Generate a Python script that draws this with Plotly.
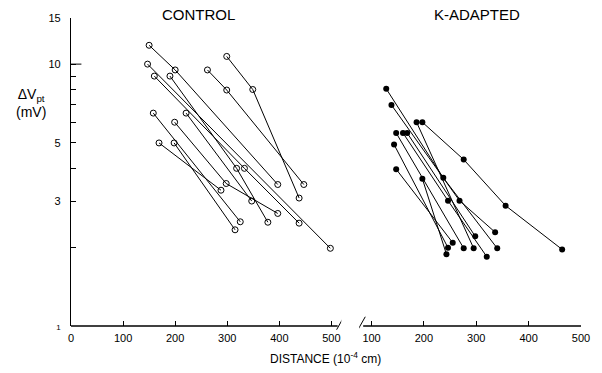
import math
import plotly.graph_objects as go

# ---------------- data (distance in 1e-4 cm, dV in mV) ----------------
ctrl_x = [
    [150, 200, 397],
    [262, 299, 447],
    [299, 349, 438],
    [190, 318, 378],
    [147, 498],
    [160, 333, 438],
    [221, 347],
    [199, 298, 397],
    [158, 325],
    [198, 315],
    [169, 288],
]
ctrl_y = [
    [11.8, 9.5, 3.47],
    [9.5, 7.96, 3.47],
    [10.7, 8.0, 3.08],
    [9.0, 4.0, 2.49],
    [10.0, 1.98],
    [9.0, 4.0, 2.47],
    [6.5, 3.0],
    [6.0, 3.5, 2.69],
    [6.5, 2.5],
    [5.0, 2.33],
    [5.0, 3.3],
]

kadapt_x = [
    [197, 276, 356, 464],
    [128, 237, 340],
    [138, 268, 336],
    [186, 295],
    [147, 276],
    [160, 246, 320],
    [168, 298],
    [143, 246],
    [147, 255],
    [197, 243],
]
kadapt_y = [
    [6.0, 4.32, 2.88, 1.96],
    [8.05, 3.68, 1.98],
    [6.98, 3.01, 2.28],
    [6.0, 1.98],
    [5.46, 1.98],
    [5.46, 3.01, 1.84],
    [5.46, 2.20],
    [4.93, 1.99],
    [3.97, 2.08],
    [3.65, 1.88],
]

y_tickvals = [1, 3, 5, 10, 15]
y_ticktext = ["<span style='font-size:8px'>1</span>", "3", "5", "10", "15"]
y_minor = [2, 4, 6, 7, 8, 9]
x_ticks_left = [0, 100, 200, 300, 400, 500]
x_ticks_right = [100, 200, 300, 400, 500]

FONT = "Liberation Sans, Arial, sans-serif"
fig = go.Figure()

for xs, ys in zip(ctrl_x, ctrl_y):
    fig.add_trace(go.Scatter(
        x=xs, y=ys, xaxis="x", yaxis="y", mode="lines+markers",
        line=dict(color="black", width=1),
        marker=dict(symbol="circle-open", size=6, color="black", line=dict(width=1)),
        showlegend=False, hoverinfo="x+y"))

for xs, ys in zip(kadapt_x, kadapt_y):
    fig.add_trace(go.Scatter(
        x=xs, y=ys, xaxis="x2", yaxis="y2", mode="lines+markers",
        line=dict(color="black", width=1),
        marker=dict(symbol="circle", size=6, color="black"),
        showlegend=False, hoverinfo="x+y"))

ymax = math.log10(15)

fig.update_layout(
    width=602, height=373,
    margin=dict(l=71, r=14, t=14, b=47),
    paper_bgcolor="white", plot_bgcolor="white",
    font=dict(family=FONT, size=11, color="black"),
    xaxis=dict(domain=[0, 0.530], range=[0, 519], showgrid=False, zeroline=False,
               showline=False, tickvals=x_ticks_left, ticks="inside", ticklen=5,
               tickcolor="black", tickwidth=1, ticklabelstandoff=4,
               tickfont=dict(size=11)),
    xaxis2=dict(domain=[0.565, 1], range=[76.3, 500], showgrid=False, zeroline=False,
                showline=False, tickvals=x_ticks_right, ticks="inside", ticklen=5,
                tickcolor="black", tickwidth=1, ticklabelstandoff=4,
                tickfont=dict(size=11), anchor="y2"),
    yaxis=dict(type="log", range=[0, ymax], showgrid=False, zeroline=False,
               showline=True, linecolor="black", linewidth=1.3,
               tickvals=y_tickvals, ticktext=y_ticktext, ticks="inside",
               ticklen=5, tickcolor="black", ticklabelstandoff=7,
               minor=dict(tickvals=y_minor, ticks="inside", ticklen=5, tickcolor="black"),
               tickfont=dict(size=11)),
    yaxis2=dict(type="log", range=[0, ymax], anchor="x2", overlaying="y",
                visible=False),
)

# bottom axis lines with break marks
fig.add_shape(type="line", xref="x", yref="paper", x0=0, x1=512, y0=0, y1=0,
              line=dict(color="black", width=1.3))
fig.add_shape(type="line", xref="x2", yref="paper", x0=84, x1=500, y0=0, y1=0,
              line=dict(color="black", width=1.3))
fig.add_shape(type="line", xref="x", yref="paper", x0=510, x1=524, y0=-0.012, y1=0.03,
              line=dict(color="black", width=1))
fig.add_shape(type="line", xref="x2", yref="paper", x0=74, x1=88, y0=-0.012, y1=0.03,
              line=dict(color="black", width=1))
# longer tick at 10
fig.add_shape(type="line", xref="x", yref="y", x0=-4, x1=20, y0=10, y1=10,
              line=dict(color="black", width=1))

fig.add_annotation(text="CONTROL", xref="x", yref="paper", x=244, y=1.01,
                   xanchor="center", yanchor="middle", showarrow=False,
                   font=dict(size=15, family=FONT))
fig.add_annotation(text="K-ADAPTED", xref="x2", yref="paper", x=302, y=1.01,
                   xanchor="center", yanchor="middle", showarrow=False,
                   font=dict(size=15, family=FONT))
fig.add_annotation(text="ΔV<sub>pt</sub><br>(mV)", xref="paper", yref="paper",
                   x=-0.079, y=0.725, xanchor="center", yanchor="middle",
                   showarrow=False, align="center", font=dict(size=14, family=FONT))
fig.add_annotation(text="DISTANCE (10<sup>-4</sup> cm)", xref="paper", yref="paper",
                   x=0.499, y=-0.07, xanchor="center", yanchor="top",
                   showarrow=False, font=dict(size=12, family=FONT))

fig.write_html("out.html", config={"displayModeBar": False},
               post_script="document.body.style.margin='0';document.body.style.overflow='hidden';")
